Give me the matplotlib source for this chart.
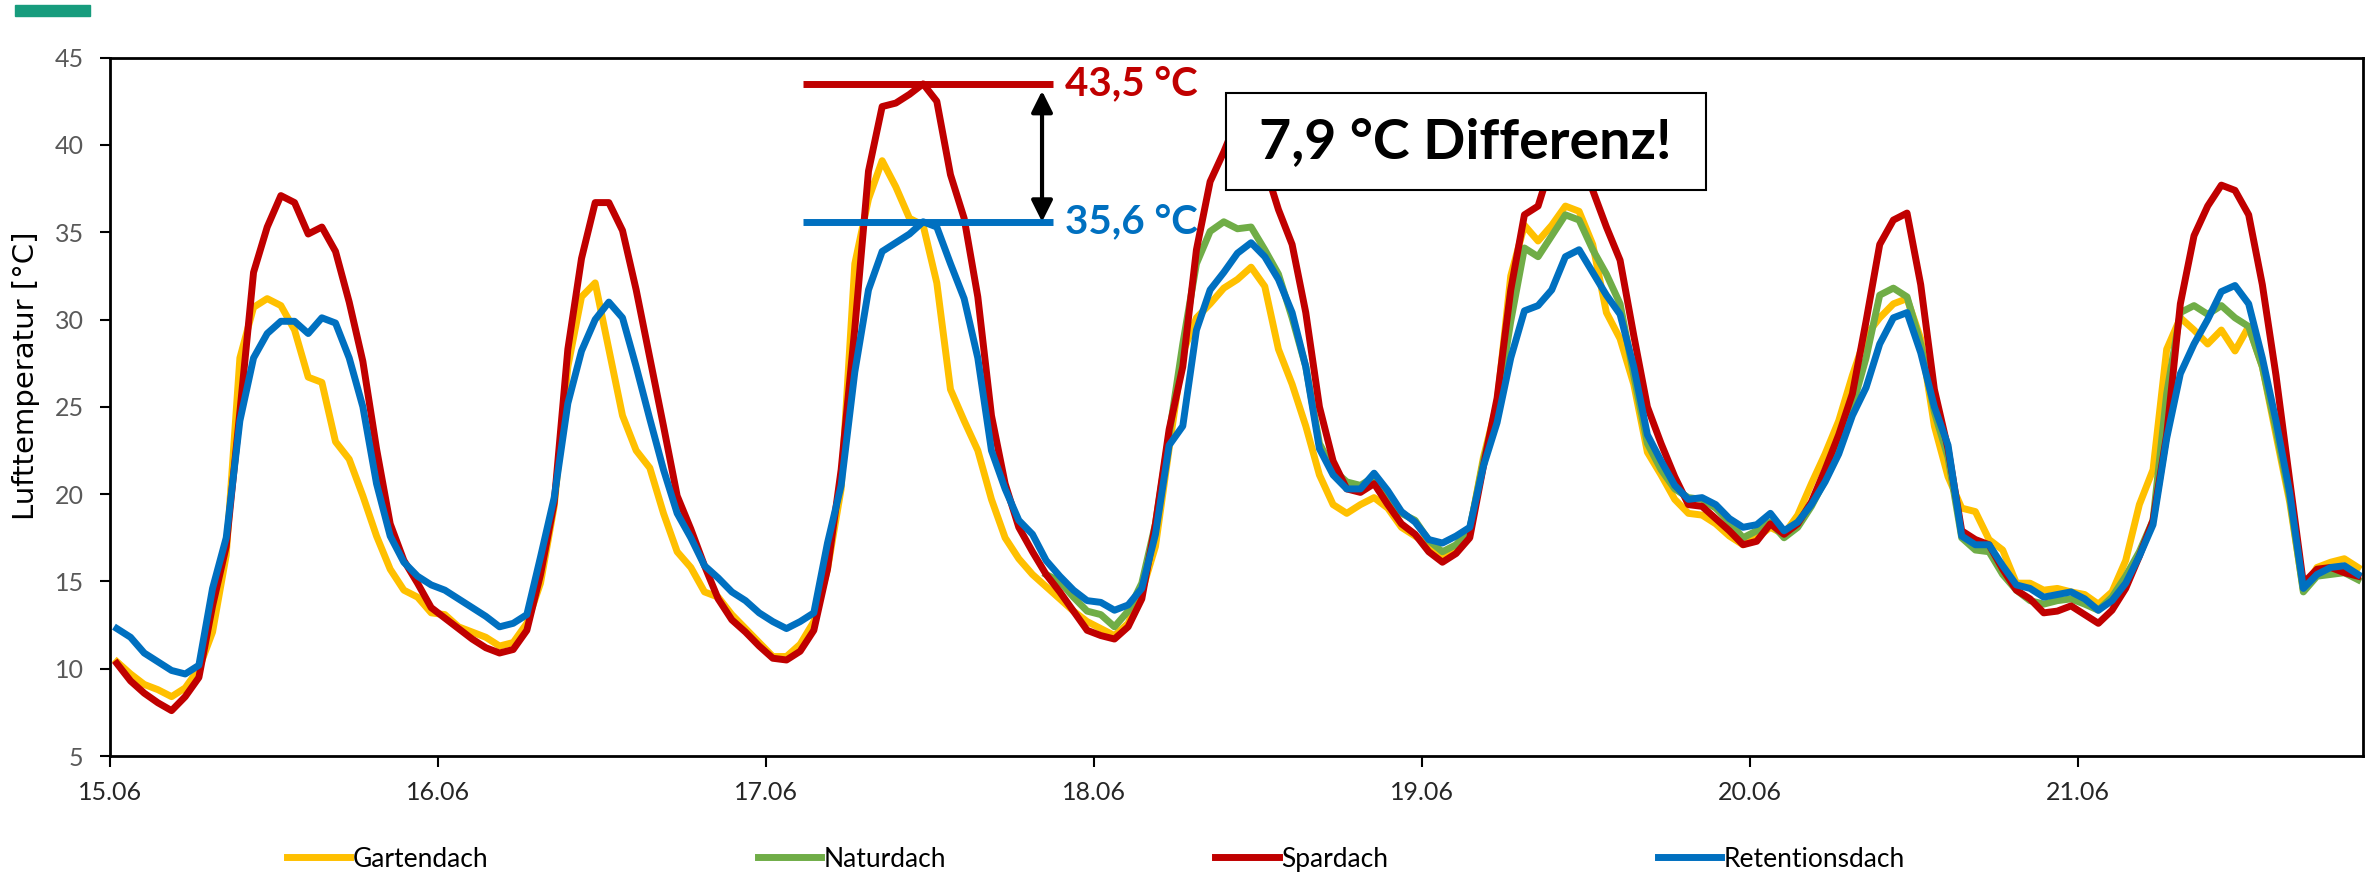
import matplotlib.pyplot as plt
import numpy as np
from matplotlib.patches import Rectangle

plt.rcParams["font.family"] = ["Lato", "DejaVu Sans"]

# Hourly air temperature readings [°C], starting 15.06 00:30
gartendach = [
    10.4, 9.7, 9.1, 8.8, 8.4, 8.9, 10.0, 12.1, 16.5, 27.8, 30.7, 31.2,
    30.8, 29.4, 26.7, 26.4, 23.0, 22.0, 19.9, 17.6, 15.7, 14.5, 14.1, 13.2,
    13.1, 12.4, 12.1, 11.8, 11.3, 11.5, 12.6, 14.9, 19.3, 27.3, 31.3, 32.1,
    28.3, 24.5, 22.5, 21.5, 18.9, 16.7, 15.8, 14.4, 14.1, 13.1, 12.3, 11.5,
    10.7, 10.7, 11.4, 12.7, 15.7, 20.3, 33.2, 36.9, 39.1, 37.6, 35.8, 35.4,
    32.1, 26.0, 24.2, 22.5, 19.7, 17.5, 16.3, 15.4, 14.7, 14.0, 13.3, 12.7,
    12.3, 11.9, 12.6, 14.4, 17.0, 22.6, 28.1, 30.1, 30.9, 31.8, 32.3, 33.0,
    31.9, 28.3, 26.3, 23.9, 21.1, 19.4, 18.9, 19.4, 19.8, 19.2, 18.1, 17.6,
    17.1, 16.4, 17.0, 17.9, 22.1, 25.2, 32.5, 35.4, 34.5, 35.4, 36.5, 36.2,
    34.3, 30.4, 28.9, 26.3, 22.4, 21.1, 19.7, 18.9, 18.8, 18.3, 17.6, 17.1,
    17.5, 18.1, 17.7, 18.8, 20.6, 22.3, 24.2, 26.8, 29.1, 30.1, 30.9, 31.2,
    28.9, 23.9, 21.0, 19.2, 19.0, 17.4, 16.8, 14.9, 14.9, 14.5, 14.6, 14.4,
    14.25, 13.7, 14.4, 16.2, 19.4, 21.4, 28.3, 30.1, 29.4, 28.6, 29.4, 28.2,
    29.6, 27.3, 23.4, 19.55, 14.5, 15.8, 16.1, 16.3, 15.8,
]

# no Naturdach readings before 17.06 evening
naturdach = [np.nan] * 68 + [
    15.4, 15.0, 14.1, 13.3,
    13.1, 12.4, 13.3, 14.9, 18.3, 23.4, 28.6, 33.2, 35.05, 35.6, 35.2, 35.3,
    34.0, 32.6, 30.1, 27.3, 22.9, 21.4, 20.7, 20.5, 21.0, 19.9, 18.9, 18.5,
    17.35, 16.7, 17.1, 18.0, 21.9, 25.0, 29.9, 34.1, 33.6, 34.8, 36.0, 35.7,
    34.0, 32.6, 30.9, 26.8, 22.9, 21.4, 20.3, 19.8, 19.7, 19.2, 18.4, 17.5,
    17.9, 18.4, 17.5, 18.1, 19.3, 20.8, 22.6, 25.0, 27.8, 31.4, 31.8, 31.3,
    28.6, 24.7, 22.1, 17.5, 16.8, 16.7, 15.4, 14.5, 13.9, 13.7, 13.9, 14.0,
    13.7, 13.35, 14.1, 15.3, 16.7, 18.5, 25.75, 30.4, 30.8, 30.3, 30.8, 30.1,
    29.6, 27.3, 23.7, 19.8, 14.4, 15.3, 15.4, 15.5, 15.1,
]

spardach = [
    10.3, 9.3, 8.6, 8.05, 7.6, 8.4, 9.5, 13.6, 17.0, 24.7, 32.7, 35.3,
    37.1, 36.7, 34.9, 35.3, 33.9, 31.0, 27.6, 22.6, 18.3, 16.2, 14.9, 13.5,
    12.9, 12.3, 11.7, 11.2, 10.9, 11.1, 12.2, 15.4, 19.5, 28.3, 33.5, 36.7,
    36.7, 35.1, 31.7, 27.8, 23.9, 19.9, 18.0, 15.9, 14.0, 12.8, 12.1, 11.3,
    10.6, 10.5, 11.0, 12.2, 15.7, 21.4, 29.5, 38.5, 42.2, 42.4, 42.9, 43.5,
    42.5, 38.3, 35.8, 31.3, 24.5, 20.6, 18.1, 16.7, 15.4, 14.4, 13.3, 12.2,
    11.9, 11.7, 12.4, 14.0, 18.3, 23.7, 27.3, 34.0, 37.9, 39.6, 41.5, 41.8,
    38.8, 36.3, 34.3, 30.4, 25.0, 21.9, 20.3, 20.1, 20.6, 19.4, 18.3, 17.7,
    16.7, 16.1, 16.6, 17.5, 21.6, 25.5, 31.7, 36.0, 36.5, 39.0, 40.0, 39.5,
    37.4, 35.3, 33.4, 29.1, 25.0, 22.9, 21.0, 19.4, 19.3, 18.6, 17.9, 17.1,
    17.3, 18.3, 17.7, 18.3, 19.55, 21.4, 23.4, 25.75, 29.9, 34.3, 35.7, 36.1,
    32.0, 26.0, 22.6, 17.9, 17.4, 17.1, 15.7, 14.5, 14.0, 13.2, 13.3, 13.6,
    13.1, 12.6, 13.35, 14.6, 16.45, 18.5, 23.4, 30.9, 34.8, 36.5, 37.7, 37.4,
    36.0, 32.0, 26.8, 20.8, 14.9, 15.7, 15.8, 15.5, 15.3,
]

retentionsdach = [
    12.3, 11.8, 10.9, 10.4, 9.9, 9.7, 10.2, 14.6, 17.5, 24.2, 27.8, 29.2,
    29.9, 29.9, 29.2, 30.1, 29.8, 27.8, 25.0, 20.6, 17.6, 16.1, 15.3, 14.8,
    14.5, 14.0, 13.5, 13.0, 12.4, 12.6, 13.1, 16.4, 19.8, 25.2, 28.2, 30.0,
    31.0, 30.1, 27.3, 24.3, 21.4, 18.9, 17.5, 15.9, 15.2, 14.4, 13.9, 13.2,
    12.7, 12.3, 12.7, 13.2, 17.2, 20.5, 27.0, 31.7, 33.9, 34.4, 34.9, 35.6,
    35.3, 33.2, 31.2, 27.8, 22.5, 20.3, 18.5, 17.7, 16.2, 15.3, 14.5, 13.9,
    13.8, 13.35, 13.65, 14.6, 17.7, 22.8, 23.9, 29.4, 31.7, 32.7, 33.8, 34.4,
    33.6, 32.3, 30.4, 27.3, 22.6, 21.1, 20.3, 20.3, 21.2, 20.2, 19.0, 18.4,
    17.4, 17.2, 17.6, 18.1, 21.6, 24.1, 27.8, 30.5, 30.8, 31.7, 33.6, 34.0,
    32.7, 31.4, 30.3, 27.3, 23.4, 21.9, 20.5, 19.7, 19.8, 19.4, 18.6, 18.1,
    18.25, 18.9, 17.9, 18.4, 19.4, 20.7, 22.3, 24.5, 26.1, 28.6, 30.1, 30.4,
    28.1, 25.0, 22.8, 17.6, 17.1, 17.1, 15.9, 14.8, 14.6, 14.1, 14.25, 14.4,
    14.0, 13.35, 13.9, 14.9, 16.45, 18.25, 23.2, 26.9, 28.6, 30.0, 31.6, 31.95,
    30.9, 27.8, 24.2, 20.1, 14.6, 15.4, 15.8, 15.9, 15.4,
]

day_labels = ["15.06", "16.06", "17.06", "18.06", "19.06", "20.06", "21.06"]
series_names = ["Gartendach", "Naturdach", "Spardach", "Retentionsdach"]
series_colors = ["#FFC000", "#70AD47", "#C00000", "#0070C0"]

hours = np.arange(len(spardach)) + 0.5

fig = plt.figure(figsize=(23.72, 8.74), dpi=100)
ax = fig.add_axes([0.0464, 0.135, 0.950, 0.799])

for name, values, color in zip(
    series_names, [gartendach, naturdach, spardach, retentionsdach], series_colors
):
    ax.plot(hours, values, color=color, lw=5.0, label=name, zorder=2)

ax.set_xlim(0, 164.9)
ax.set_ylim(5, 45)
ax.set_yticks(np.arange(5, 46, 5))
ax.set_xticks(np.arange(len(day_labels)) * 24)
ax.set_xticklabels(day_labels)

ax.tick_params(axis="y", length=7, width=1.5, pad=12, labelsize=18, labelcolor="#595959")
ax.tick_params(axis="x", length=8, width=1.5, pad=10, labelsize=18, labelcolor="#262626")
for spine in ax.spines.values():
    spine.set_linewidth(2)

ax.set_ylabel("Lufttemperatur [°C]", fontsize=21, family="DejaVu Sans")
ax.yaxis.set_label_coords(-0.031, 0.545)

# Peak comparison on 17.06
red_peak = max(spardach[48:72])
blue_peak = max(retentionsdach[48:72])
diff = red_peak - blue_peak

ax.hlines(red_peak, 50.7, 69.0, color=series_colors[2], lw=5, zorder=4)
ax.hlines(blue_peak, 50.7, 69.0, color=series_colors[3], lw=5, zorder=4)
ax.annotate(
    "", xy=(68.2, blue_peak), xytext=(68.2, red_peak - 0.4),
    arrowprops=dict(arrowstyle="<|-|>", color="black", lw=3,
                    mutation_scale=32, shrinkA=0, shrinkB=0),
    zorder=4,
)
ax.text(69.9, red_peak, f"{red_peak:.1f} °C".replace(".", ","), color=series_colors[2],
        fontsize=29, fontweight="bold", va="center", ha="left")
ax.text(69.9, blue_peak, f"{blue_peak:.1f} °C".replace(".", ","), color=series_colors[3],
        fontsize=29, fontweight="bold", va="center", ha="left")

ax.add_patch(Rectangle((81.66, 37.41), 35.1, 5.56, facecolor="white",
                       edgecolor="black", lw=1.5, zorder=5))
ax.text(99.2, 40.19, f"{diff:.1f} °C Differenz!".replace(".", ","), fontsize=40,
        fontweight="bold", ha="center", va="center", zorder=6)

fig.legend(loc="center", bbox_to_anchor=(0.462, 0.017), ncol=4, frameon=False,
           prop=dict(family="Lato", size=19), handlelength=2.4,
           handletextpad=0.1, columnspacing=10.2)

# Corporate colour bar in the corner
fig.add_artist(Rectangle((0.0063, 0.9817), 0.0316, 0.0126,
                         transform=fig.transFigure, color="#179C7D"))

fig.savefig("out.png", dpi=100)
